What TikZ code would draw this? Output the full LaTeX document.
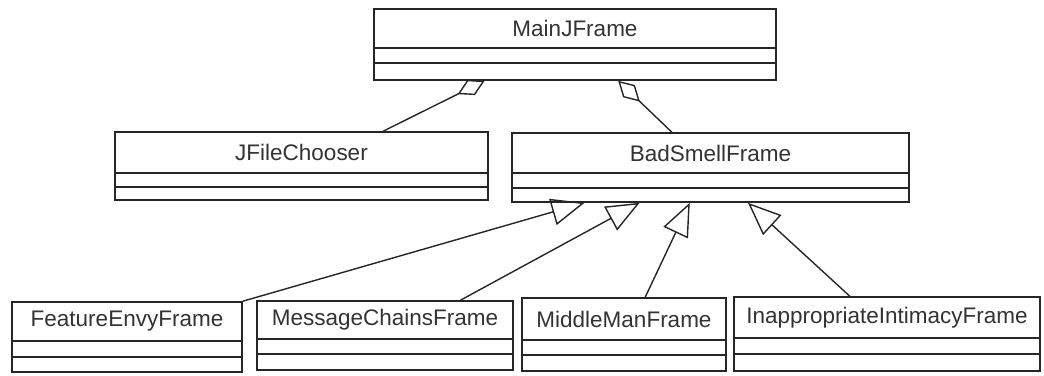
\documentclass[tikz,border=0pt]{standalone}
\usepackage{fontspec}
\setmainfont{Liberation Sans}
\usetikzlibrary{arrows.meta,fit,calc}

\definecolor{linecol}{HTML}{262626}
\definecolor{textcol}{HTML}{333333}

\tikzset{
  classbox/.style={draw=linecol, line width=1.6pt, inner sep=0pt},
  classtitle/.style={text=textcol, font=\fontsize{22.5}{27}\selectfont, inner sep=0pt},
  compartment/.style={draw=linecol, line width=1.6pt},
  aggregation/.style={draw=linecol, line width=1.4pt,
    {Diamond[open,length=30pt,width=17pt]}-},
  inheritance/.style={draw=linecol, line width=1.4pt,
    -{Triangle[open,length=33pt,width=27pt]}},
}

% UML class box: name, left, top, right, bottom, separator 1, separator 2, title
\newcommand\umlclass[8]{%
  \node[classbox, fit={(#2,#3) (#4,#5)}] (#1) {};
  \node[classtitle] (#1-title) at ($(#2,#3)!0.5!(#4,#6)$) {#8};
  \draw[compartment] (#2,#6) -- (#4,#6);
  \draw[compartment] (#2,#7) -- (#4,#7);
}

\begin{document}
\begin{tikzpicture}[x=1pt, y=-1pt]
  \fill[white] (0,0) rectangle (1044,375);
  \useasboundingbox (0,0) rectangle (1044,375);

  \umlclass{main}{374}{9}{776}{80}{48}{63}{MainJFrame}
  \umlclass{jfc}{115}{132}{488}{200}{173}{187}{JFileChooser}
  \umlclass{bsf}{512}{133}{909}{202}{173}{188}{BadSmellFrame}
  \umlclass{fe}{12}{302}{242}{372}{341}{357}{FeatureEnvyFrame}
  \umlclass{mc}{257}{301}{513}{370}{339}{354}{MessageChainsFrame}
  \umlclass{mm}{522}{298}{726}{371}{340}{355}{MiddleManFrame}
  \umlclass{ia}{734}{297}{1040}{371}{338}{354}{InappropriateIntimacyFrame}

  % aggregations from MainJFrame
  \draw[aggregation] ($(main.south west)!0.276!(main.south east)$)
    -- ($(jfc.north west)!0.718!(jfc.north east)$);
  \draw[aggregation] ($(main.south west)!0.607!(main.south east)$)
    -- ($(bsf.north west)!0.403!(bsf.north east)$);

  % generalizations to BadSmellFrame
  \draw[inheritance] (fe.north east)
    -- ($(bsf.south west)!0.184!(bsf.south east)$);
  \draw[inheritance] ($(mc.north west)!0.793!(mc.north east)$)
    -- ($(bsf.south west)!0.322!(bsf.south east)$);
  \draw[inheritance] ($(mm.north west)!0.603!(mm.north east)$)
    -- ($(bsf.south west)!0.448!(bsf.south east)$);
  \draw[inheritance] ($(ia.north west)!0.379!(ia.north east)$)
    -- ($(bsf.south west)!0.594!(bsf.south east)$);
\end{tikzpicture}
\end{document}
